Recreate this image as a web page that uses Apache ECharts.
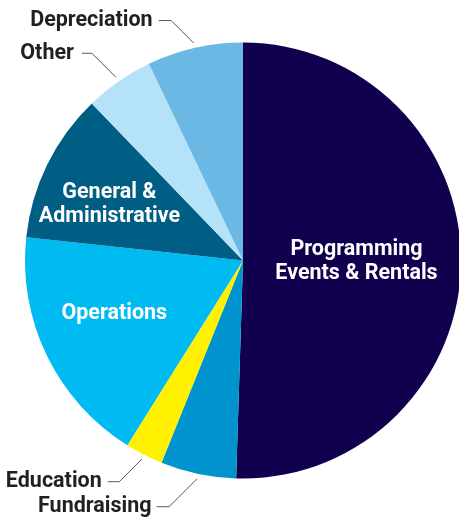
<!DOCTYPE html>
<html>
<head>
<meta charset="utf-8">
<script src="https://cdn.jsdelivr.net/npm/echarts@6/dist/echarts.min.js"></script>
<style>html,body{margin:0;padding:0;background:#fff}#c{width:459px;height:521px}</style>
</head>
<body>
<div id="c"></div>
<script>
// Data (percent of total, clockwise from 12 o'clock)
const categories = ['Programming\nEvents & Rentals', 'Fundraising', 'Education', 'Operations', 'General &\nAdministrative', 'Other', 'Depreciation'];
const values = [50.5, 5.6, 2.8, 17.8, 11.1, 5.1, 7.1];

// Styling
const colors = ['#10004e', '#0093cd', '#fff100', '#00bbf1', '#005e85', '#b4e2f8', '#6cb8e5'];
const inside = [true, false, false, true, true, false, false];
const insideShift = { 0: [1.5, -1], 3: [-28, 4], 4: [-33, -7] };
const leader = { 1: { d: 28, h: 12.5, gap: 5 }, 2: { d: 22.5, h: 11.5, gap: 6 }, 5: { d: 24, h: 10, gap: 8 }, 6: { d: 22.5, h: 12.5, gap: 6 } };
const center = [243, 260.5];
const radius = 218;

const chart = echarts.init(document.getElementById('c'), null, { renderer: 'canvas' });
chart.setOption({
  animation: false,
  series: [{
    type: 'pie',
    center: center,
    radius: radius,
    startAngle: 90,
    clockwise: true,
    avoidLabelOverlap: false,
    itemStyle: { borderWidth: 0 },
    emphasis: { disabled: true },
    data: categories.map((name, i) => ({
      name: name,
      value: values[i],
      itemStyle: { color: colors[i] },
      label: inside[i]
        ? { position: 'inside', color: '#ffffff', fontSize: 21.5, lineHeight: 24, fontWeight: 'bold', fontFamily: 'Roboto' }
        : { position: 'outside', color: '#231f20', fontSize: 21.5, fontWeight: 'bold', fontFamily: 'Roboto' },
      labelLine: { show: !inside[i], length: 10, length2: 10, lineStyle: { color: '#58595b', width: 1 } }
    })),
    label: { formatter: '{b}' },
    labelLayout: function (p) {
      const i = p.dataIndex;
      if (inside[i]) {
        const s = insideShift[i] || [0, 0];
        return { dx: s[0], dy: s[1] };
      }
      const g = leader[i];
      if (!g || !p.labelLinePoints) return {};
      const s0 = p.labelLinePoints[0];
      const vx = s0[0] - center[0], vy = s0[1] - center[1];
      const len = Math.sqrt(vx * vx + vy * vy);
      const s = [s0[0] + vx / len * 5, s0[1] + vy / len * 5];
      const sign = vy < 0 ? -1 : 1;
      const mid = [s[0] - g.d, s[1] + sign * g.d];
      const end = [mid[0] - g.h, mid[1]];
      return { x: end[0] - g.gap, y: end[1], align: 'right', verticalAlign: 'middle', labelLinePoints: [s, mid, end] };
    }
  }]
});
</script>
</body>
</html>
